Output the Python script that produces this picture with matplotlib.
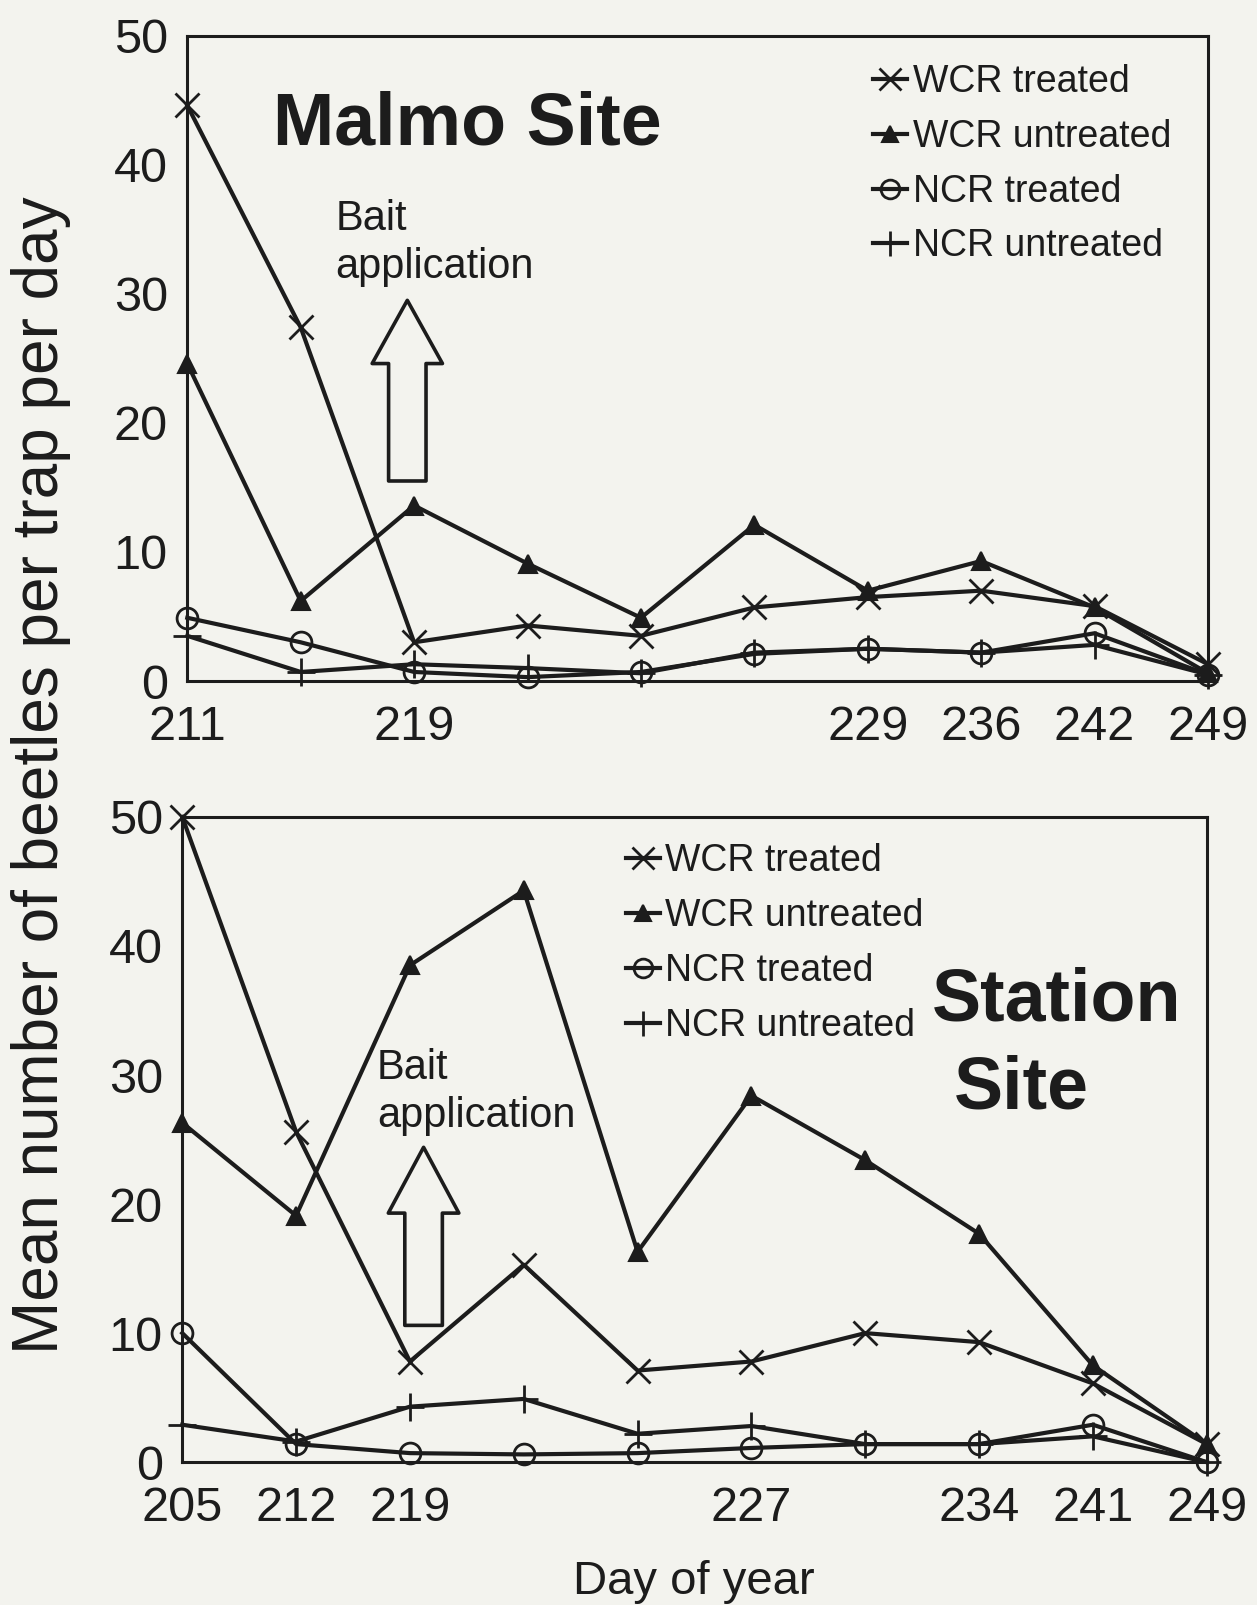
import matplotlib
matplotlib.use("Agg")
import matplotlib.pyplot as plt
from matplotlib.patches import FancyArrow
import numpy as np

plt.rcParams['font.family'] = ['Liberation Sans', 'DejaVu Sans']

# ---- Data ----
series_labels = ["WCR treated", "WCR untreated", "NCR treated", "NCR untreated"]

malmo_ticklabels = ["211", "", "219", "", "", "", "229", "236", "242", "249"]
malmo_wcr_treated = [44.6, 27.4, 3.0, 4.3, 3.5, 5.7, 6.5, 7.0, 5.8, 1.3]
malmo_wcr_untreated = [24.6, 6.2, 13.6, 9.1, 4.9, 12.1, 7.0, 9.3, 5.7, 0.6]
malmo_ncr_treated = [4.9, 3.0, 0.7, 0.3, 0.7, 2.1, 2.5, 2.2, 3.7, 0.5]
malmo_ncr_untreated = [3.5, 0.7, 1.3, 1.0, 0.6, 2.2, 2.5, 2.2, 2.8, 0.5]

station_ticklabels = ["205", "212", "219", "", "", "227", "", "234", "241", "249"]
station_wcr_treated = [50.0, 25.6, 7.8, 15.3, 7.1, 7.8, 10.0, 9.3, 6.1, 1.4]
station_wcr_untreated = [26.3, 19.1, 38.5, 44.3, 16.3, 28.4, 23.4, 17.7, 7.5, 1.4]
station_ncr_treated = [10.0, 1.4, 0.7, 0.6, 0.7, 1.1, 1.4, 1.4, 2.9, 0.0]
station_ncr_untreated = [2.9, 1.6, 4.3, 4.9, 2.2, 2.8, 1.4, 1.4, 2.0, 0.0]

yticks = [0, 10, 20, 30, 40, 50]

BG = '#f3f3ee'
INK = '#1c1c1c'

fig = plt.figure(figsize=(12.57, 16.05), dpi=100, facecolor=BG)

ax1 = fig.add_axes([0.149, 0.5757, 0.812, 0.402])
ax2 = fig.add_axes([0.145, 0.089, 0.815, 0.402])

styles = [
    dict(marker='x', ms=17, mew=2.0, mfc='none'),
    dict(marker='^', ms=13, mew=1.5, mfc=INK),
    dict(marker='o', ms=15, mew=2.0, mfc='none'),
    dict(marker='+', ms=20, mew=2.0, mfc='none'),
]


def draw(ax, ticklabels, data, legend_anchor):
    x = np.arange(len(ticklabels))
    handles = []
    for vals, st, lab in zip(data, styles, series_labels):
        h, = ax.plot(x, vals, color=INK, lw=3.0, mec=INK, label=lab,
                     clip_on=False, zorder=3, **st)
        handles.append(h)
    ax.set_xlim(0, len(ticklabels) - 1)
    ax.set_ylim(0, 50)
    ax.set_xticks(x)
    ax.set_xticklabels(ticklabels)
    ax.set_yticks(yticks)
    ax.tick_params(axis='both', length=0, labelsize=35, colors=INK)
    ax.tick_params(axis='y', pad=14)
    ax.tick_params(axis='x', pad=17)
    ax.set_facecolor(BG)
    for s in ax.spines.values():
        s.set_linewidth(2.2)
        s.set_color(INK)
    leg = ax.legend(handles=handles, loc='upper left', bbox_to_anchor=legend_anchor,
                    frameon=False, fontsize=27, handlelength=0.9, handletextpad=0.15,
                    labelspacing=0.5, borderpad=0, borderaxespad=0, markerscale=0.9)
    for t in leg.get_texts():
        t.set_color(INK)
    return leg


draw(ax1, malmo_ticklabels,
     [malmo_wcr_treated, malmo_wcr_untreated, malmo_ncr_treated, malmo_ncr_untreated],
     (0.672, 0.956))
draw(ax2, station_ticklabels,
     [station_wcr_treated, station_wcr_untreated, station_ncr_treated, station_ncr_untreated],
     (0.433, 0.959))

# Titles inside panels
ax1.text(0.274, 0.862, "Malmo Site", transform=ax1.transAxes, fontsize=53,
         fontweight='bold', ha='center', va='center', color=INK)
ax2.text(0.854, 0.714, "Station", transform=ax2.transAxes, fontsize=53,
         fontweight='bold', ha='center', va='center', color=INK)
ax2.text(0.819, 0.579, "Site", transform=ax2.transAxes, fontsize=53,
         fontweight='bold', ha='center', va='center', color=INK)

# Bait application annotations
ax1.text(0.145, 0.679, "Bait\napplication", transform=ax1.transAxes, fontsize=30,
         ha='left', va='center', color=INK, linespacing=1.25)
ax2.text(0.19, 0.574, "Bait\napplication", transform=ax2.transAxes, fontsize=30,
         ha='left', va='center', color=INK, linespacing=1.25)

ax1.add_patch(FancyArrow(1.94, 15.5, 0, 14.0, width=0.33, head_width=0.62,
                         head_length=4.9, length_includes_head=True, fc='none',
                         ec=INK, lw=2.6, joinstyle='round', zorder=2))
ax2.add_patch(FancyArrow(2.12, 10.6, 0, 13.8, width=0.33, head_width=0.62,
                         head_length=5.1, length_includes_head=True, fc='none',
                         ec=INK, lw=2.6, joinstyle='round', zorder=2))

fig.text(41 / 1257, 1 - 775 / 1605, "Mean number of beetles per trap per day",
         rotation=90, ha='center', va='center', fontsize=46, color=INK)
fig.text(694 / 1257, 1 - 1582 / 1605, "Day of year", ha='center', va='center',
         fontsize=34, color=INK)

fig.savefig("out.png", dpi=100, facecolor=BG)
